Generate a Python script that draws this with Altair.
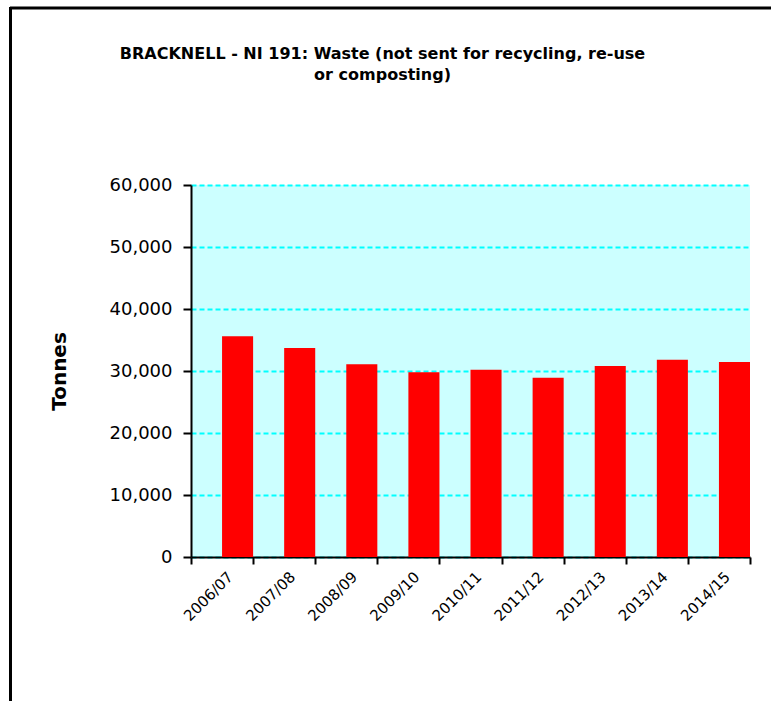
import altair as alt
import pandas as pd

years = ["2006/07", "2007/08", "2008/09", "2009/10", "2010/11",
         "2011/12", "2012/13", "2013/14", "2014/15"]
tonnes = [35600, 33700, 31100, 29800, 30200, 28900, 30800, 31800, 31450]
series_slots = ["(blank)", "Waste"]
y_ticks = [0, 10000, 20000, 30000, 40000, 50000, 60000]
title_lines = ["BRACKNELL - NI 191:  Waste (not sent for recycling, re-use",
               "or composting)"]

df = pd.DataFrame({"year": years, "tonnes": tonnes, "series": ["Waste"] * len(years)})

FONT = "DejaVu Sans"

bars = alt.Chart(df).mark_bar(color="#FF0000").encode(
    x=alt.X("year:N", sort=years,
            scale=alt.Scale(paddingInner=0, paddingOuter=0),
            axis=alt.Axis(title=None, labelAngle=-45, labelAlign="right",
                          labelBaseline="middle", tickBand="extent",
                          labelPadding=10, labelOffset=8, tickSize=7, labelFontSize=15,
                          grid=False)),
    xOffset=alt.XOffset("series:N",
                        scale=alt.Scale(domain=series_slots, paddingInner=0, paddingOuter=0)),
    y=alt.Y("tonnes:Q", scale=alt.Scale(domain=[0, 60000], nice=False),
            axis=alt.Axis(title="Tonnes", values=y_ticks, format=",d",
                          labelFontSize=18, labelPadding=11, tickSize=8,
                          grid=True, gridColor="#00FFFF", gridDash=[5, 3], gridWidth=2,
                          titleFontSize=20, titleFontWeight="bold",
                          titleX=-132, titleY=186, titleAlign="center",
                          titleBaseline="middle", titleAngle=-90)),
)

frame = alt.Data(values=[{"k": 0}])
frame_top = alt.Chart(frame).mark_rule(color="black", strokeWidth=3).encode(
    x=alt.value(-181), x2=alt.value(600), y=alt.value(-177))
frame_left = alt.Chart(frame).mark_rule(color="black", strokeWidth=3).encode(
    x=alt.value(-180.5), y=alt.value(-178), y2=alt.value(530))

chart = alt.layer(frame_top, frame_left, bars).properties(
    width=559, height=372,
    background="white",
    autosize=alt.AutoSizeParams(type="none"),
    padding={"left": 191, "top": 185, "right": 21, "bottom": 144},
    title=alt.TitleParams(text=title_lines, font=FONT, fontSize=16, fontWeight="bold",
                          anchor="middle", dx=-88, dy=87, offset=10, lineHeight=21,
                          color="black"),
).configure_view(fill="#CCFFFF", strokeWidth=0).configure_axis(
    labelFont=FONT, titleFont=FONT, labelColor="black", titleColor="black",
    domainColor="black", domainWidth=2, tickColor="black", tickWidth=2,
)

chart.save("out.html", embed_options={"renderer": "svg", "actions": False})
